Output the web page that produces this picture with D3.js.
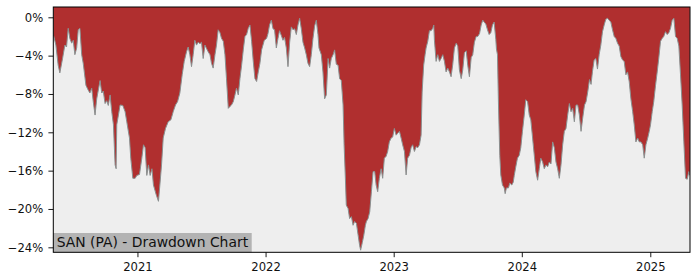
<!DOCTYPE html>
<html><head><meta charset="utf-8">
<script src="https://cdn.jsdelivr.net/npm/d3@7"></script>
<style>body{margin:0;background:#fff} svg{display:block}</style>
</head><body><svg id="c" width="700" height="280"></svg>
<script>
// fractional years (date of each observation)
const dateYears=[
2020.345,2020.349,2020.365,2020.383,2020.396,2020.417,2020.435,2020.448,2020.461,2020.474,2020.488,2020.500,2020.513,2020.527,2020.539,2020.552,2020.566,2020.578,2020.599,2020.617,2020.630,2020.644,2020.656,2020.670,2020.683,2020.709,2020.722,2020.734,2020.748,2020.761,2020.773,2020.787,2020.800,2020.813,2020.826,2020.834,2020.839,2020.852,2020.865,2020.886,2020.904,2020.917,2020.938,2020.948,2020.964,2020.982,2020.995,
2021.016,2021.034,2021.047,2021.060,2021.073,2021.086,2021.099,2021.113,2021.125,2021.146,2021.164,2021.175,2021.188,2021.201,2021.219,2021.240,2021.261,2021.279,2021.297,2021.313,2021.331,2021.349,2021.365,2021.383,2021.396,2021.409,2021.422,2021.435,2021.448,2021.461,2021.474,2021.488,2021.500,2021.513,2021.527,2021.539,2021.552,2021.566,2021.578,2021.591,2021.605,2021.617,2021.630,2021.644,2021.656,2021.670,2021.683,2021.695,2021.709,2021.722,2021.734,2021.748,2021.761,2021.773,2021.787,2021.800,2021.813,2021.826,2021.839,2021.852,2021.865,2021.878,2021.891,2021.904,2021.917,2021.930,2021.943,2021.956,2021.969,2021.990,
2022.008,2022.019,2022.031,2022.045,2022.058,2022.070,2022.084,2022.097,2022.109,2022.123,2022.136,2022.148,2022.162,2022.175,2022.188,2022.201,2022.214,2022.227,2022.240,2022.253,2022.266,2022.279,2022.292,2022.305,2022.318,2022.331,2022.344,2022.357,2022.370,2022.383,2022.396,2022.409,2022.417,2022.435,2022.448,2022.461,2022.474,2022.488,2022.500,2022.513,2022.527,2022.539,2022.552,2022.566,2022.578,2022.591,2022.605,2022.613,2022.623,2022.630,2022.644,2022.656,2022.670,2022.683,2022.695,2022.709,2022.722,2022.734,2022.742,2022.755,2022.766,2022.779,2022.787,2022.800,2022.813,2022.826,2022.839,2022.852,2022.863,2022.875,2022.888,2022.902,2022.914,2022.927,2022.941,2022.953,2022.966,2022.980,2022.992,
2023.005,2023.019,2023.031,2023.045,2023.058,2023.070,2023.084,2023.097,2023.109,2023.123,2023.136,2023.148,2023.162,2023.175,2023.188,2023.201,2023.214,2023.222,2023.234,2023.245,2023.253,2023.266,2023.279,2023.292,2023.305,2023.313,2023.318,2023.331,2023.344,2023.357,2023.370,2023.383,2023.396,2023.409,2023.422,2023.435,2023.448,2023.461,2023.474,2023.488,2023.500,2023.513,2023.527,2023.539,2023.552,2023.566,2023.578,2023.591,2023.605,2023.617,2023.630,2023.644,2023.656,2023.670,2023.683,2023.695,2023.706,2023.719,2023.732,2023.745,2023.758,2023.771,2023.784,2023.797,2023.802,2023.810,2023.818,2023.828,2023.836,2023.849,2023.863,2023.870,2023.880,2023.896,2023.906,2023.922,2023.933,2023.941,2023.953,2023.966,2023.980,2023.992,
2024.005,2024.019,2024.031,2024.045,2024.058,2024.070,2024.084,2024.097,2024.109,2024.123,2024.136,2024.148,2024.162,2024.175,2024.188,2024.201,2024.214,2024.227,2024.240,2024.253,2024.266,2024.279,2024.292,2024.305,2024.318,2024.331,2024.344,2024.357,2024.370,2024.383,2024.396,2024.409,2024.422,2024.435,2024.448,2024.461,2024.474,2024.488,2024.500,2024.513,2024.527,2024.539,2024.550,2024.563,2024.576,2024.589,2024.602,2024.615,2024.628,2024.641,2024.654,2024.667,2024.680,2024.693,2024.706,2024.719,2024.732,2024.745,2024.758,2024.771,2024.784,2024.797,2024.810,2024.823,2024.836,2024.849,2024.863,2024.875,2024.888,2024.902,2024.914,2024.927,2024.941,2024.953,2024.966,2024.980,2024.992,
2025.002,2025.015,2025.027,2025.041,2025.054,2025.066,2025.080,2025.093,2025.105,2025.119,2025.132,2025.145,2025.158,2025.171,2025.184,2025.197,2025.210,2025.223,2025.236,2025.249,2025.262,2025.275,2025.288,2025.301,2025.309];
// drawdown in percent
const drawdown=[
-1.8,-2.0,-2.9,-5.0,-5.8,-4.3,-2.9,-3.1,-1.15,-2.2,-2.7,-2.4,-3.9,-3.2,-1.3,-1.15,-3.9,-4.8,-7.1,-7.6,-7.9,-7.4,-8.8,-10.2,-8.5,-6.6,-7.9,-7.7,-9.0,-8.7,-9.2,-8.1,-9.85,-11.2,-15.4,-15.8,-11.2,-10.2,-9.15,-9.2,-9.85,-10.9,-12.6,-14.7,-16.8,-16.8,-16.5,
-16.4,-14.7,-13.3,-13.6,-16.5,-15.4,-16.5,-15.8,-17.5,-18.5,-19.2,-17.5,-15.4,-12.6,-11.6,-10.9,-10.7,-9.85,-9.15,-8.8,-7.9,-6.0,-4.6,-3.6,-3.1,-3.9,-5.15,-3.9,-2.4,-2.9,-2.6,-2.75,-2.6,-4.3,-2.9,-3.25,-3.6,-3.9,-4.8,-5.3,-3.9,-2.9,-1.3,-1.6,-2.2,-2.5,-3.9,-6.4,-9.5,-9.3,-9.15,-8.8,-8.1,-7.4,-8.1,-6.4,-5.0,-3.4,-2.0,-1.8,-1.15,-0.8,-2.5,-4.6,-6.4,-6.7,-5.7,-4.8,-3.4,-2.4,
-2.2,-1.7,-0.8,-0.3,-1.2,-1.3,-3.2,-2.2,-1.4,-1.9,-2.4,-2.1,-3.2,-5.15,-2.6,-1.0,-1.3,-1.2,-1.8,-0.8,-0.1,-1.2,-2.6,-3.2,-3.9,-4.8,-5.15,-3.9,-2.2,-0.9,-0.3,-1.8,-3.2,-3.9,-5.7,-8.5,-8.1,-4.3,-5.3,-4.3,-3.9,-3.4,-4.9,-5.0,-6.4,-6.6,-9.15,-13.3,-16.8,-19.6,-19.95,-21.0,-20.8,-21.7,-21.3,-21.5,-22.7,-23.8,-24.3,-23.5,-22.8,-21.7,-21.3,-21.0,-20.3,-18.2,-16.1,-16.1,-17.5,-18.2,-16.8,-15.8,-16.8,-14.7,-14.5,-14.0,-13.0,-12.6,-12.5,
-11.6,-12.3,-12.1,-11.9,-12.6,-13.3,-14.0,-16.45,-14.7,-14.4,-13.6,-13.3,-14.0,-13.5,-13.6,-13.3,-12.3,-7.8,-5.0,-3.9,-3.2,-2.5,-1.4,-1.4,-1.15,-0.8,-2.4,-4.6,-3.9,-4.6,-4.3,-3.9,-4.6,-5.7,-5.3,-5.7,-6.2,-4.9,-3.2,-2.7,-3.0,-5.5,-6.4,-5.5,-3.7,-3.5,-5.0,-6.2,-4.2,-3.9,-2.6,-2.0,-2.0,-1.7,-0.8,-0.3,-0.5,-0.7,-1.3,-1.8,-1.6,-0.8,-0.5,-2.3,-3.3,-3.9,-9.15,-14.4,-16.45,-17.5,-17.8,-18.4,-17.8,-17.8,-17.3,-17.5,-17.2,-16.5,-15.6,-14.7,-14.4,-13.6,
-11.9,-10.2,-8.6,-8.8,-10.2,-10.7,-12.6,-14.4,-16.1,-17.0,-15.8,-14.7,-15.1,-15.8,-15.4,-15.6,-15.1,-15.3,-13.0,-13.6,-15.1,-15.8,-16.8,-15.4,-13.3,-11.9,-11.6,-10.2,-9.0,-9.85,-9.5,-10.9,-9.15,-9.15,-10.2,-11.9,-10.5,-9.15,-8.8,-7.8,-6.5,-7.0,-5.65,-4.45,-4.3,-5.4,-3.9,-2.9,-1.5,-0.8,-0.2,-0.1,-0.3,-0.5,-1.3,-2.0,-2.2,-2.7,-3.0,-4.1,-4.45,-4.6,-6.0,-5.7,-6.7,-8.5,-9.85,-11.2,-13.0,-12.6,-13.0,-13.0,-13.3,-14.7,-13.3,-12.6,-11.9,
-11.2,-9.85,-8.8,-7.1,-5.7,-4.3,-2.5,-2.2,-2.0,-1.5,-1.8,-1.6,-1.15,-0.3,-0.1,-2.0,-2.2,-3.0,-6.0,-9.15,-13.0,-16.8,-16.9,-16.1,-16.5];
const yTicks=[0,-4,-8,-12,-16,-20,-24];
const xTickYears=[2021,2022,2023,2024,2025];
const xRangeYears=[2020.345,2025.31];
const yRange=[-24.52,1.075];
const titleText="SAN (PA) - Drawdown Chart";

function yearToDate(t){const yr=Math.floor(t);const s=Date.UTC(yr,0,1),e=Date.UTC(yr+1,0,1);return new Date(s+(t-yr)*(e-s));}
const data=dateYears.map((t,i)=>({date:yearToDate(t),v:drawdown[i]}));

const W=700,H=280,m={l:53.3,r:10,t:7,b:27.7};
const svg=d3.select("#c");
const x=d3.scaleUtc().domain(xRangeYears.map(yearToDate)).range([m.l,W-m.r]);
const y=d3.scaleLinear().domain(yRange).range([H-m.b,m.t]);
const font="DejaVu Sans, sans-serif";

svg.append("defs").append("clipPath").attr("id","clip").append("rect")
  .attr("x",m.l).attr("y",m.t).attr("width",W-m.r-m.l).attr("height",H-m.b-m.t);

svg.append("rect").attr("x",m.l).attr("y",m.t).attr("width",W-m.r-m.l).attr("height",H-m.b-m.t).attr("fill","#eeeeee");

const g=svg.append("g").attr("clip-path","url(#clip)");
g.append("path").datum(data)
  .attr("d",d3.area().x(d=>x(d.date)).y0(y(yRange[1])).y1(d=>y(d.v)))
  .attr("fill","#b02f2f");
g.append("path").datum(data)
  .attr("d",d3.line().x(d=>x(d.date)).y(d=>y(d.v)))
  .attr("fill","none").attr("stroke","#8a9090").attr("stroke-width",1);

// title box
const tb=svg.append("g");
const tr=tb.append("rect").attr("fill","#b3b3b3");
const tt=tb.append("text").attr("x",m.l+3.4).attr("y",246.7)
  .attr("font-family",font).attr("font-size","13.9px").attr("fill","#111").text(titleText);
const tw=tt.node().getComputedTextLength();
tr.attr("x",m.l).attr("y",233).attr("width",tw+7).attr("height",H-m.b-233);

const fmt=d=>d===0?"0%":"\u2212"+Math.abs(d)+"%";
const ya=svg.append("g").attr("transform",`translate(${m.l},0)`)
  .call(d3.axisLeft(y).tickValues(yTicks).tickFormat(fmt).tickSize(4.9).tickPadding(5.2));
const xa=svg.append("g").attr("transform",`translate(0,${H-m.b})`)
  .call(d3.axisBottom(x).tickValues(xTickYears.map(yr=>new Date(Date.UTC(yr,0,1)))).tickFormat(d3.utcFormat("%Y")).tickSize(4.9).tickPadding(5.8));
[ya,xa].forEach(a=>{a.select(".domain").remove();
  a.selectAll("text").attr("font-family",font).attr("font-size","11.6px").attr("fill","#111");
  a.selectAll("line").attr("stroke","#000").attr("stroke-width",0.9);});

svg.append("rect").attr("x",m.l).attr("y",m.t).attr("width",W-m.r-m.l).attr("height",H-m.b-m.t)
  .attr("fill","none").attr("stroke","#000").attr("stroke-width",1);
</script></body></html>
